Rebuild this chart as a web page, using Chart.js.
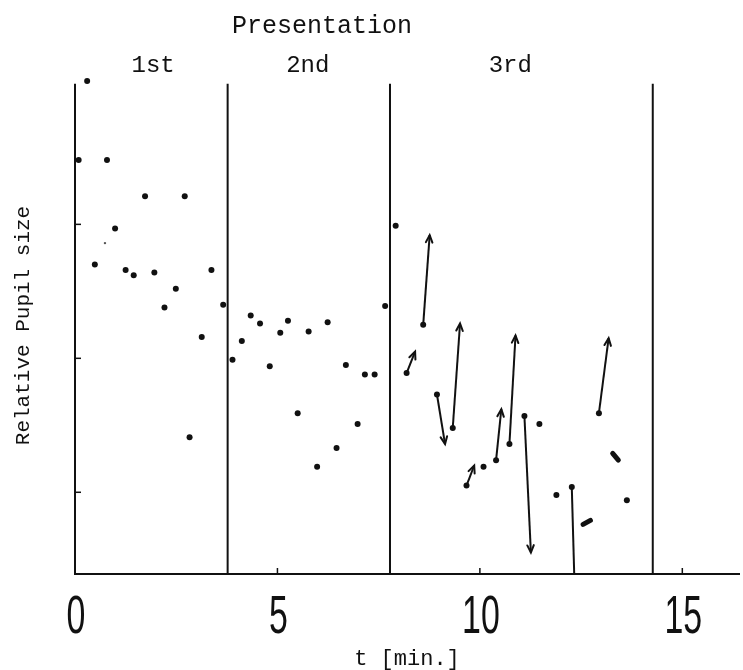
<!DOCTYPE html>
<html>
<head>
<meta charset="utf-8">
<script src="https://cdn.jsdelivr.net/npm/chart.js@4.4.1/dist/chart.umd.min.js"></script>
<style>
  html, body { margin: 0; padding: 0; background: #fff; }
  #wrap { width: 743px; height: 670px; }
</style>
</head>
<body>
<div id="wrap"><canvas id="pupil" width="743" height="670"></canvas></div>
<script>
// t in minutes, pupil size in units of the y tick spacing
const dotT = [0.30, 0.09, 0.79, 1.73, 2.71, 0.99, 0.49, 1.25, 1.45, 1.96, 3.37, 2.49, 2.21, 3.66, 3.13, 2.83,
              3.89, 4.12, 4.34, 4.57, 4.81, 5.07, 5.26, 5.50, 5.77, 5.98, 6.24, 6.46, 6.69, 6.98, 7.16, 7.40, 7.66,
              7.92, 10.09, 11.47, 11.89, 13.63];
const dotP = [4.07, 3.48, 3.48, 3.21, 3.21, 2.97, 2.70, 2.66, 2.62, 2.64, 2.66, 2.52, 2.38, 2.40, 2.16, 1.41,
              1.99, 2.13, 2.32, 2.26, 1.94, 2.19, 2.28, 1.59, 2.20, 1.19, 2.27, 1.33, 1.95, 1.51, 1.88, 1.88, 2.39,
              2.99, 1.19, 1.51, 0.98, 0.94];

// faint speck in the first presentation
const faintT = [0.74];
const faintP = [2.86];

// 3rd presentation: measured value -> where it moved
const arrowT0 = [8.60, 8.19, 8.94, 9.33, 9.67, 10.40, 10.73, 11.10, 12.27, 12.94];
const arrowP0 = [2.25, 1.89, 1.73, 1.48, 1.05, 1.24, 1.36, 1.57, 1.04, 1.59];
const arrowT1 = [8.76, 8.40, 9.14, 9.51, 9.86, 10.53, 10.88, 11.26, 12.33, 13.18];
const arrowP1 = [2.92, 2.05, 1.36, 2.26, 1.20, 1.62, 2.17, 0.55, 0.39, 2.15];

// very short moves, drawn as smudges
const streakT0 = [12.55, 13.28];
const streakP0 = [0.76, 1.29];
const streakT1 = [12.73, 13.42];
const streakP1 = [0.79, 1.24];

// ends of the 1st, 2nd and 3rd presentation (the axis itself at 0)
const phaseEnds = [0, 3.77, 7.78, 14.27];
const phaseNames = ['1st', '2nd', '3rd'];
const phaseLabelT = [1.93, 5.75, 10.75];

const xTicks = [0, 5, 10, 15];
const yTicks = [1, 2, 3];
const yMin = 0.39, yMax = 4.1, lineTop = 4.05;

const ink = '#111';
const mono = '"Liberation Mono", "DejaVu Sans Mono", monospace';

const datasets = [];

phaseEnds.forEach(t => {
  datasets.push({
    data: [{ x: t, y: yMin }, { x: t, y: lineTop }],
    showLine: true, borderColor: ink, borderWidth: 2, pointRadius: 0, clip: false
  });
});

datasets.push({
  data: dotT.map((t, i) => ({ x: t, y: dotP[i] })),
  pointRadius: 3, pointBackgroundColor: ink, pointBorderWidth: 0, clip: false
});

datasets.push({
  data: faintT.map((t, i) => ({ x: t, y: faintP[i] })),
  pointRadius: 1.2, pointBackgroundColor: '#555', pointBorderWidth: 0
});

arrowT0.forEach((t, i) => {
  datasets.push({
    arrow: true,
    data: [{ x: t, y: arrowP0[i] }, { x: arrowT1[i], y: arrowP1[i] }],
    showLine: true, borderColor: ink, borderWidth: 2,
    pointRadius: c => c.dataIndex === 0 ? 3 : 0,
    pointBackgroundColor: ink, pointBorderWidth: 0, clip: false
  });
});

streakT0.forEach((t, i) => {
  datasets.push({
    data: [{ x: t, y: streakP0[i] }, { x: streakT1[i], y: streakP1[i] }],
    showLine: true, borderColor: ink, borderWidth: 5, borderCapStyle: 'round',
    pointRadius: 0, clip: false
  });
});

// open V heads on the arrow ends, inward ticks, tick numbers, header texts
const decor = {
  id: 'decor',
  afterDatasetsDraw(chart) {
    const { ctx } = chart;
    ctx.save();
    ctx.strokeStyle = ink;
    ctx.lineWidth = 2;
    ctx.lineCap = 'round';
    chart.data.datasets.forEach((ds, i) => {
      if (!ds.arrow) return;
      if (ds.data[1].y <= yMin) return; // runs off the axis, head not shown
      const pts = chart.getDatasetMeta(i).data;
      const a = pts[0], b = pts[1];
      const ang = Math.atan2(b.y - a.y, b.x - a.x);
      const len = 8, spread = 0.42;
      ctx.beginPath();
      ctx.moveTo(b.x - len * Math.cos(ang - spread), b.y - len * Math.sin(ang - spread));
      ctx.lineTo(b.x, b.y);
      ctx.lineTo(b.x - len * Math.cos(ang + spread), b.y - len * Math.sin(ang + spread));
      ctx.stroke();
    });
    ctx.restore();
  },
  afterDraw(chart) {
    const { ctx, chartArea: area, scales: { x, y } } = chart;
    ctx.save();
    ctx.strokeStyle = ink;
    ctx.lineWidth = 1.5;
    x.ticks.forEach(t => {
      if (t.value === 0) return;
      const px = x.getPixelForValue(t.value);
      ctx.beginPath();
      ctx.moveTo(px, area.bottom);
      ctx.lineTo(px, area.bottom - 6);
      ctx.stroke();
    });
    y.ticks.forEach(t => {
      const py = y.getPixelForValue(t.value);
      ctx.beginPath();
      ctx.moveTo(area.left, py);
      ctx.lineTo(area.left + 6, py);
      ctx.stroke();
    });

    ctx.fillStyle = ink;
    ctx.textAlign = 'center';

    // tall narrow numerals under the time axis
    ctx.textBaseline = 'alphabetic';
    ctx.font = '53px "Liberation Sans", Arial, sans-serif';
    x.ticks.forEach(t => {
      ctx.save();
      ctx.translate(x.getPixelForValue(t.value) + 1, 633);
      ctx.scale(0.64, 1);
      ctx.fillText(String(t.value), 0, 0);
      ctx.restore();
    });

    ctx.textBaseline = 'middle';
    ctx.font = '25px ' + mono;
    ctx.fillText('Presentation', 322, 26);
    ctx.font = '24px ' + mono;
    phaseNames.forEach((name, i) => {
      ctx.fillText(name, x.getPixelForValue(phaseLabelT[i]), 66);
    });
    ctx.restore();
  }
};

new Chart(document.getElementById('pupil'), {
  type: 'scatter',
  data: { datasets },
  plugins: [decor],
  options: {
    responsive: false,
    animation: false,
    layout: { padding: { top: 77, right: 0, left: 0, bottom: 0 } },
    plugins: { legend: { display: false }, tooltip: { enabled: false } },
    scales: {
      x: {
        type: 'linear', min: 0, max: 16.4,
        afterBuildTicks: s => { s.ticks = xTicks.map(v => ({ value: v })); },
        afterFit: s => { s.height = 96; },
        grid: { display: true, drawOnChartArea: false, drawTicks: false },
        border: { display: true, color: ink, width: 2 },
        ticks: { display: false },
        title: {
          display: true, text: 't [min.]', color: ink, padding: 0,
          font: { family: mono, size: 22, lineHeight: 1 }
        }
      },
      y: {
        type: 'linear', min: yMin, max: yMax,
        afterBuildTicks: s => { s.ticks = yTicks.map(v => ({ value: v })); },
        afterFit: s => { s.width = 75; },
        grid: { display: true, drawOnChartArea: false, drawTicks: false },
        border: { display: false },
        ticks: { display: false },
        title: {
          display: true, text: 'Relative Pupil size', color: ink,
          padding: { top: 11, bottom: 0 },
          font: { family: mono, size: 21, lineHeight: 1.2 }
        }
      }
    }
  }
});
</script>
</body>
</html>
